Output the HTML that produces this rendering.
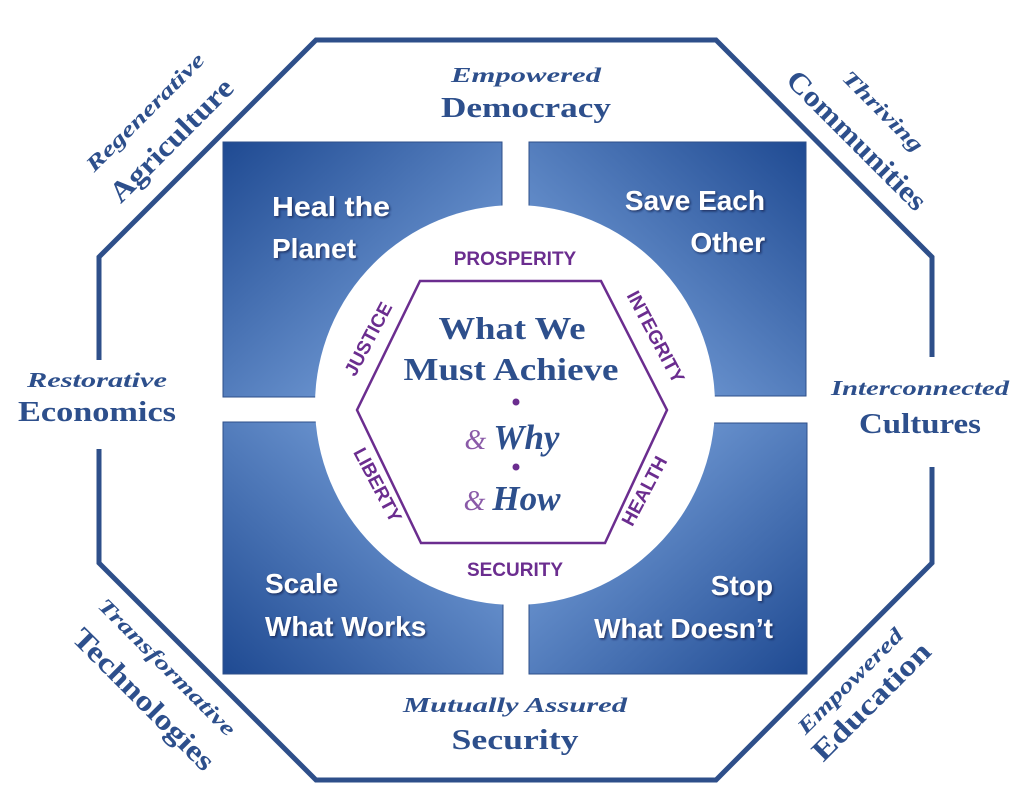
<!DOCTYPE html>
<html><head><meta charset="utf-8"><style>
html,body{margin:0;padding:0;background:#fff;}
svg{display:block}
.ser{font-family:"Liberation Serif",serif;font-weight:bold;fill:#2d4f8c}
.it{font-style:italic;font-size:21px}
.big{font-size:29px}
.wh{font-family:"Liberation Sans",sans-serif;font-weight:bold;font-size:28px;fill:#fff}
.pu{font-family:"Liberation Sans",sans-serif;font-weight:bold;font-size:19px;fill:#6b2d8f}
</style></head><body>
<svg width="1024" height="810" viewBox="0 0 1024 810" xmlns="http://www.w3.org/2000/svg">
<defs>
<linearGradient id="gTL" x1="0" y1="0" x2="1" y2="1"><stop offset="0" stop-color="#1f4a92"/><stop offset="0.75" stop-color="#6e97d2"/></linearGradient>
<linearGradient id="gTR" x1="1" y1="0" x2="0" y2="1"><stop offset="0" stop-color="#1f4a92"/><stop offset="0.75" stop-color="#6e97d2"/></linearGradient>
<linearGradient id="gBL" x1="0" y1="1" x2="1" y2="0"><stop offset="0" stop-color="#1f4a92"/><stop offset="0.75" stop-color="#6e97d2"/></linearGradient>
<linearGradient id="gBR" x1="1" y1="1" x2="0" y2="0"><stop offset="0" stop-color="#1f4a92"/><stop offset="0.75" stop-color="#6e97d2"/></linearGradient>
<filter id="sh"><feDropShadow dx="1.5" dy="1.5" stdDeviation="1" flood-color="#0a1f44" flood-opacity="0.7"/></filter>
</defs>
<g fill="none" stroke="#2e4f8a" stroke-width="5">
<polyline points="99,360 99,257 316,40 716,40 932,257 932,357"/>
<polyline points="932,467 932,563 716,780 316,780 99,563 99,449"/>
</g>
<rect x="223" y="142" width="279" height="255" fill="url(#gTL)" stroke="#2e4f8a" stroke-width="1"/>
<rect x="529" y="142" width="277" height="254" fill="url(#gTR)" stroke="#2e4f8a" stroke-width="1"/>
<rect x="223" y="422" width="280" height="252" fill="url(#gBL)" stroke="#2e4f8a" stroke-width="1"/>
<rect x="529" y="423" width="278" height="251" fill="url(#gBR)" stroke="#2e4f8a" stroke-width="1"/>
<circle cx="515" cy="405" r="200" fill="#fff"/>
<polygon points="420,281 601,281 667,410 605,543 421,543 357,410" fill="none" stroke="#6b2d8f" stroke-width="2.5"/>
<g class="wh" filter="url(#sh)">
<text x="272" y="216" textLength="118" lengthAdjust="spacingAndGlyphs">Heal the</text>
<text x="272" y="258">Planet</text>
<text x="765" y="210" text-anchor="end">Save Each</text>
<text x="765" y="252" text-anchor="end">Other</text>
<text x="265" y="593">Scale</text>
<text x="265" y="636">What Works</text>
<text x="773" y="595" text-anchor="end">Stop</text>
<text x="773" y="638" text-anchor="end">What Doesn’t</text>
</g>
<g class="pu" text-anchor="middle">
<text x="515" y="265">PROSPERITY</text>
<text x="515" y="576">SECURITY</text>
<text transform="translate(374,342) rotate(-62)">JUSTICE</text>
<text transform="translate(650,340) rotate(62)">INTEGRITY</text>
<text transform="translate(372,488) rotate(62)">LIBERTY</text>
<text transform="translate(650,494) rotate(-62)">HEALTH</text>
</g>
<g class="ser" text-anchor="middle" font-size="32">
<text x="512" y="339" textLength="147" lengthAdjust="spacingAndGlyphs">What We</text>
<text x="511" y="380" textLength="215" lengthAdjust="spacingAndGlyphs">Must Achieve</text>
<text x="512" y="449" font-style="italic" font-size="35"><tspan fill="#8a5aa8" font-weight="normal" font-size="28">&amp; </tspan>Why</text>
<text x="512" y="510" font-style="italic" font-size="35"><tspan fill="#8a5aa8" font-weight="normal" font-size="28">&amp; </tspan>How</text>
</g>
<circle cx="516" cy="402" r="3.5" fill="#6b2d8f"/>
<circle cx="516" cy="467" r="3.5" fill="#6b2d8f"/>
<g class="ser" text-anchor="middle">
<text class="it" x="526" y="82" textLength="150" lengthAdjust="spacingAndGlyphs">Empowered</text>
<text class="big" x="526" y="117" textLength="170" lengthAdjust="spacingAndGlyphs">Democracy</text>
<text class="it" x="97" y="387" textLength="140" lengthAdjust="spacingAndGlyphs">Restorative</text>
<text class="big" x="97" y="421" textLength="158" lengthAdjust="spacingAndGlyphs">Economics</text>
<text class="it" x="920" y="395" textLength="178" lengthAdjust="spacingAndGlyphs">Interconnected</text>
<text class="big" x="920" y="433" textLength="122" lengthAdjust="spacingAndGlyphs">Cultures</text>
<text class="it" x="515" y="712" textLength="224" lengthAdjust="spacingAndGlyphs">Mutually Assured</text>
<text class="big" x="515" y="749" textLength="127" lengthAdjust="spacingAndGlyphs">Security</text>
<text class="it" transform="translate(150,117) rotate(-45)" textLength="158" lengthAdjust="spacingAndGlyphs">Regenerative</text>
<text class="big" transform="translate(178,147) rotate(-45)" textLength="162" lengthAdjust="spacingAndGlyphs">Agriculture</text>
<text class="it" transform="translate(878,116) rotate(45)" textLength="105" lengthAdjust="spacingAndGlyphs">Thriving</text>
<text class="big" transform="translate(850,147) rotate(45)" textLength="185" lengthAdjust="spacingAndGlyphs">Communities</text>
<text class="it" transform="translate(162,672) rotate(45)" textLength="185" lengthAdjust="spacingAndGlyphs">Transformative</text>
<text class="big" transform="translate(137,706) rotate(45)" textLength="188" lengthAdjust="spacingAndGlyphs">Technologies</text>
<text class="it" transform="translate(855,686) rotate(-45)" textLength="140" lengthAdjust="spacingAndGlyphs">Empowered</text>
<text class="big" transform="translate(878,708) rotate(-45)" textLength="155" lengthAdjust="spacingAndGlyphs">Education</text>
</g>
</svg>
</body></html>
